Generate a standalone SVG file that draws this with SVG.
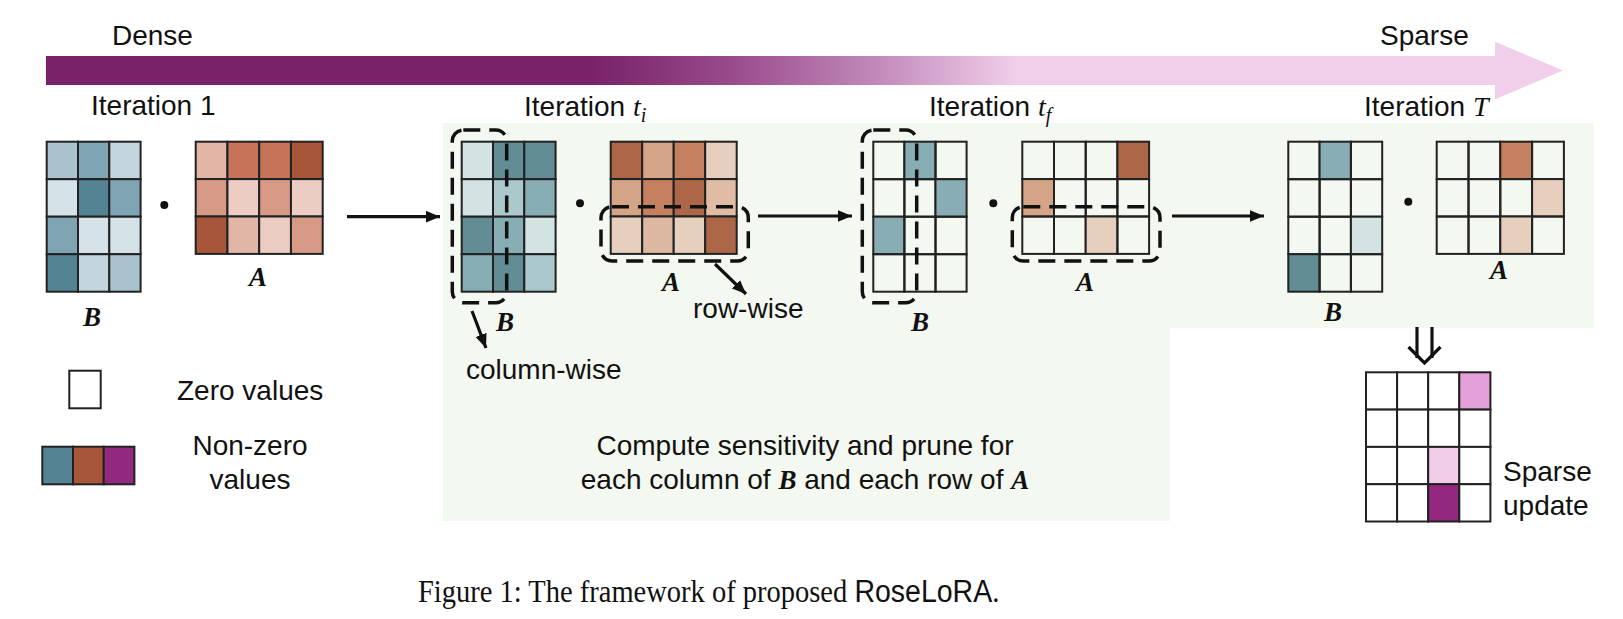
<svg xmlns="http://www.w3.org/2000/svg" width="1623" height="619" viewBox="0 0 1623 619">
<style>
.lbl{font-family:"Liberation Sans",Arial,sans-serif;font-size:28px;fill:#111}
.mat{font-family:"Liberation Serif","Times New Roman",serif;font-weight:bold;font-style:italic;font-size:27px;fill:#111;text-anchor:middle}
.math{font-family:"Liberation Serif","Times New Roman",serif;font-style:italic}
.c{stroke:#222;stroke-width:2}
.z{fill:none}
.dash{fill:none;stroke:#111;stroke-width:3.5;stroke-dasharray:17 9}
.conn{stroke:#111;stroke-width:3.2;fill:none}
</style>
<defs>
<linearGradient id="grad" gradientUnits="userSpaceOnUse" x1="46" y1="0" x2="1563" y2="0">
<stop offset="0" stop-color="#78226a"/>
<stop offset="0.36" stop-color="#78226a"/>
<stop offset="0.45" stop-color="#984a8b"/>
<stop offset="0.55" stop-color="#c38bbb"/>
<stop offset="0.64" stop-color="#f1cfea"/>
<stop offset="1" stop-color="#f1cfea"/>
</linearGradient>
<marker id="ah" viewBox="0 0 12 12" markerWidth="14" markerHeight="14" refX="12" refY="6" orient="auto" markerUnits="userSpaceOnUse">
<path d="M0,1 L12,6 L0,11 Z" fill="#111"/>
</marker>
</defs>
<rect width="1623" height="619" fill="#fff"/>
<g id="progress">
<path d="M46,56 L1495,56 L1495,41.7 L1563,70.5 L1495,99.3 L1495,85 L46,85 Z" fill="url(#grad)"/>
<text class="lbl" x="112" y="45">Dense</text>
<text class="lbl" x="1380" y="45">Sparse</text>
</g>
<path id="panel" d="M443,123 L1594,123 L1594,328 L1170,328 L1170,521 L443,521 Z" fill="#f3f8f0"/>
<g id="titles">
<text class="lbl" x="91" y="115">Iteration 1</text>
<text class="lbl" x="524" y="115.5">Iteration <tspan class="math">t</tspan><tspan class="math" font-size="20" dy="6">i</tspan></text>
<text class="lbl" x="929" y="115.5">Iteration <tspan class="math">t</tspan><tspan class="math" font-size="20" dy="6">f</tspan></text>
<text class="lbl" x="1364" y="115.5">Iteration <tspan class="math">T</tspan></text>
</g>
<g id="iter1-B">
<rect class="c" x="46.7" y="141.7" width="31.3" height="37.5" fill="#a9c2cd"/>
<rect class="c" x="78" y="141.7" width="31.3" height="37.5" fill="#7fa5b5"/>
<rect class="c" x="109.3" y="141.7" width="31.3" height="37.5" fill="#c3d6de"/>
<rect class="c" x="46.7" y="179.2" width="31.3" height="37.5" fill="#d5e3e9"/>
<rect class="c" x="78" y="179.2" width="31.3" height="37.5" fill="#548393"/>
<rect class="c" x="109.3" y="179.2" width="31.3" height="37.5" fill="#7fa5b5"/>
<rect class="c" x="46.7" y="216.7" width="31.3" height="37.5" fill="#7fa5b5"/>
<rect class="c" x="78" y="216.7" width="31.3" height="37.5" fill="#d5e3e9"/>
<rect class="c" x="109.3" y="216.7" width="31.3" height="37.5" fill="#d5e3e9"/>
<rect class="c" x="46.7" y="254.2" width="31.3" height="37.5" fill="#548393"/>
<rect class="c" x="78" y="254.2" width="31.3" height="37.5" fill="#c3d6de"/>
<rect class="c" x="109.3" y="254.2" width="31.3" height="37.5" fill="#a9c2cd"/>
<text class="mat" x="92" y="326">B</text>
</g>
<circle cx="164.3" cy="205" r="4" fill="#111"/>
<g id="iter1-A">
<rect class="c" x="195.7" y="141.7" width="31.75" height="37.4" fill="#e2b6a6"/>
<rect class="c" x="227.45" y="141.7" width="31.75" height="37.4" fill="#c7735a"/>
<rect class="c" x="259.2" y="141.7" width="31.75" height="37.4" fill="#c7735a"/>
<rect class="c" x="290.95" y="141.7" width="31.75" height="37.4" fill="#a8563a"/>
<rect class="c" x="195.7" y="179.1" width="31.75" height="37.4" fill="#d79a86"/>
<rect class="c" x="227.45" y="179.1" width="31.75" height="37.4" fill="#eccdc3"/>
<rect class="c" x="259.2" y="179.1" width="31.75" height="37.4" fill="#d79a86"/>
<rect class="c" x="290.95" y="179.1" width="31.75" height="37.4" fill="#eccdc3"/>
<rect class="c" x="195.7" y="216.5" width="31.75" height="37.4" fill="#a8563a"/>
<rect class="c" x="227.45" y="216.5" width="31.75" height="37.4" fill="#e2b6a6"/>
<rect class="c" x="259.2" y="216.5" width="31.75" height="37.4" fill="#eccdc3"/>
<rect class="c" x="290.95" y="216.5" width="31.75" height="37.4" fill="#d79a86"/>
<text class="mat" x="258" y="286">A</text>
</g>
<g id="iterti-B">
<rect class="c" x="461.7" y="141.7" width="31.3" height="37.5" fill="#d2e3e1"/>
<rect class="c" x="493" y="141.7" width="31.3" height="37.5" fill="#628d95"/>
<rect class="c" x="524.3" y="141.7" width="31.3" height="37.5" fill="#628d95"/>
<rect class="c" x="461.7" y="179.2" width="31.3" height="37.5" fill="#d2e3e1"/>
<rect class="c" x="493" y="179.2" width="31.3" height="37.5" fill="#abc9cc"/>
<rect class="c" x="524.3" y="179.2" width="31.3" height="37.5" fill="#87adb5"/>
<rect class="c" x="461.7" y="216.7" width="31.3" height="37.5" fill="#628d95"/>
<rect class="c" x="493" y="216.7" width="31.3" height="37.5" fill="#87adb5"/>
<rect class="c" x="524.3" y="216.7" width="31.3" height="37.5" fill="#d2e3e1"/>
<rect class="c" x="461.7" y="254.2" width="31.3" height="37.5" fill="#87adb5"/>
<rect class="c" x="493" y="254.2" width="31.3" height="37.5" fill="#628d95"/>
<rect class="c" x="524.3" y="254.2" width="31.3" height="37.5" fill="#abc9cc"/>
<rect class="dash" x="452.3" y="130" width="54.4" height="172.7" rx="11"/>
<text class="mat" x="505" y="331">B</text>
</g>
<circle cx="580" cy="203.3" r="4" fill="#111"/>
<g id="iterti-A">
<rect class="c" x="610.7" y="141.7" width="31.5" height="37.4" fill="#ab6748"/>
<rect class="c" x="642.2" y="141.7" width="31.5" height="37.4" fill="#d4a487"/>
<rect class="c" x="673.7" y="141.7" width="31.5" height="37.4" fill="#c58060"/>
<rect class="c" x="705.2" y="141.7" width="31.5" height="37.4" fill="#e6d0bd"/>
<rect class="c" x="610.7" y="179.1" width="31.5" height="37.4" fill="#d4a487"/>
<rect class="c" x="642.2" y="179.1" width="31.5" height="37.4" fill="#c58060"/>
<rect class="c" x="673.7" y="179.1" width="31.5" height="37.4" fill="#ab6748"/>
<rect class="c" x="705.2" y="179.1" width="31.5" height="37.4" fill="#e0bca5"/>
<rect class="c" x="610.7" y="216.5" width="31.5" height="37.4" fill="#e6d0bd"/>
<rect class="c" x="642.2" y="216.5" width="31.5" height="37.4" fill="#dcb8a0"/>
<rect class="c" x="673.7" y="216.5" width="31.5" height="37.4" fill="#e6d0bd"/>
<rect class="c" x="705.2" y="216.5" width="31.5" height="37.4" fill="#ab6748"/>
<rect class="dash" x="601" y="206.7" width="147.3" height="54.3" rx="11"/>
<text class="mat" x="671" y="291">A</text>
</g>
<g id="itertf-B">
<rect class="c z" x="873.3" y="141.7" width="31.1" height="37.5"/>
<rect class="c" x="904.4" y="141.7" width="31.1" height="37.5" fill="#88adb5"/>
<rect class="c z" x="935.5" y="141.7" width="31.1" height="37.5"/>
<rect class="c z" x="873.3" y="179.2" width="31.1" height="37.5"/>
<rect class="c z" x="904.4" y="179.2" width="31.1" height="37.5"/>
<rect class="c" x="935.5" y="179.2" width="31.1" height="37.5" fill="#88adb5"/>
<rect class="c" x="873.3" y="216.7" width="31.1" height="37.5" fill="#88adb5"/>
<rect class="c z" x="904.4" y="216.7" width="31.1" height="37.5"/>
<rect class="c z" x="935.5" y="216.7" width="31.1" height="37.5"/>
<rect class="c z" x="873.3" y="254.2" width="31.1" height="37.5"/>
<rect class="c z" x="904.4" y="254.2" width="31.1" height="37.5"/>
<rect class="c z" x="935.5" y="254.2" width="31.1" height="37.5"/>
<rect class="dash" x="862.3" y="130" width="54.4" height="172.7" rx="11"/>
<text class="mat" x="920" y="331">B</text>
</g>
<circle cx="993.3" cy="203.3" r="4" fill="#111"/>
<g id="itertf-A">
<rect class="c z" x="1022.3" y="141.7" width="31.7" height="37.4"/>
<rect class="c z" x="1054" y="141.7" width="31.7" height="37.4"/>
<rect class="c z" x="1085.7" y="141.7" width="31.7" height="37.4"/>
<rect class="c" x="1117.4" y="141.7" width="31.7" height="37.4" fill="#ab6748"/>
<rect class="c" x="1022.3" y="179.1" width="31.7" height="37.4" fill="#d4a487"/>
<rect class="c z" x="1054" y="179.1" width="31.7" height="37.4"/>
<rect class="c z" x="1085.7" y="179.1" width="31.7" height="37.4"/>
<rect class="c z" x="1117.4" y="179.1" width="31.7" height="37.4"/>
<rect class="c z" x="1022.3" y="216.5" width="31.7" height="37.4"/>
<rect class="c z" x="1054" y="216.5" width="31.7" height="37.4"/>
<rect class="c" x="1085.7" y="216.5" width="31.7" height="37.4" fill="#e6d0bd"/>
<rect class="c z" x="1117.4" y="216.5" width="31.7" height="37.4"/>
<rect class="dash" x="1012.3" y="206.7" width="147.7" height="54.3" rx="11"/>
<text class="mat" x="1085" y="291">A</text>
</g>
<g id="iterT-B">
<rect class="c z" x="1288.3" y="141.7" width="31.3" height="37.5"/>
<rect class="c" x="1319.6" y="141.7" width="31.3" height="37.5" fill="#88adb5"/>
<rect class="c z" x="1350.9" y="141.7" width="31.3" height="37.5"/>
<rect class="c z" x="1288.3" y="179.2" width="31.3" height="37.5"/>
<rect class="c z" x="1319.6" y="179.2" width="31.3" height="37.5"/>
<rect class="c z" x="1350.9" y="179.2" width="31.3" height="37.5"/>
<rect class="c z" x="1288.3" y="216.7" width="31.3" height="37.5"/>
<rect class="c z" x="1319.6" y="216.7" width="31.3" height="37.5"/>
<rect class="c" x="1350.9" y="216.7" width="31.3" height="37.5" fill="#d2e3e1"/>
<rect class="c" x="1288.3" y="254.2" width="31.3" height="37.5" fill="#628d95"/>
<rect class="c z" x="1319.6" y="254.2" width="31.3" height="37.5"/>
<rect class="c z" x="1350.9" y="254.2" width="31.3" height="37.5"/>
<text class="mat" x="1333" y="321">B</text>
</g>
<circle cx="1408.3" cy="201.7" r="4" fill="#111"/>
<g id="iterT-A">
<rect class="c z" x="1436.7" y="141.7" width="31.8" height="37.4"/>
<rect class="c z" x="1468.5" y="141.7" width="31.8" height="37.4"/>
<rect class="c" x="1500.3" y="141.7" width="31.8" height="37.4" fill="#c58060"/>
<rect class="c z" x="1532.1" y="141.7" width="31.8" height="37.4"/>
<rect class="c z" x="1436.7" y="179.1" width="31.8" height="37.4"/>
<rect class="c z" x="1468.5" y="179.1" width="31.8" height="37.4"/>
<rect class="c z" x="1500.3" y="179.1" width="31.8" height="37.4"/>
<rect class="c" x="1532.1" y="179.1" width="31.8" height="37.4" fill="#e6d0bd"/>
<rect class="c z" x="1436.7" y="216.5" width="31.8" height="37.4"/>
<rect class="c z" x="1468.5" y="216.5" width="31.8" height="37.4"/>
<rect class="c" x="1500.3" y="216.5" width="31.8" height="37.4" fill="#e6d0bd"/>
<rect class="c z" x="1532.1" y="216.5" width="31.8" height="37.4"/>
<text class="mat" x="1499" y="279">A</text>
</g>
<g id="sparse-update">
<rect class="c" x="1366" y="372.3" width="31.1" height="37.3" fill="#fff"/>
<rect class="c" x="1397.1" y="372.3" width="31.1" height="37.3" fill="#fff"/>
<rect class="c" x="1428.2" y="372.3" width="31.1" height="37.3" fill="#fff"/>
<rect class="c" x="1459.3" y="372.3" width="31.1" height="37.3" fill="#e4a0d8"/>
<rect class="c" x="1366" y="409.6" width="31.1" height="37.3" fill="#fff"/>
<rect class="c" x="1397.1" y="409.6" width="31.1" height="37.3" fill="#fff"/>
<rect class="c" x="1428.2" y="409.6" width="31.1" height="37.3" fill="#fff"/>
<rect class="c" x="1459.3" y="409.6" width="31.1" height="37.3" fill="#fff"/>
<rect class="c" x="1366" y="446.9" width="31.1" height="37.3" fill="#fff"/>
<rect class="c" x="1397.1" y="446.9" width="31.1" height="37.3" fill="#fff"/>
<rect class="c" x="1428.2" y="446.9" width="31.1" height="37.3" fill="#f2cdea"/>
<rect class="c" x="1459.3" y="446.9" width="31.1" height="37.3" fill="#fff"/>
<rect class="c" x="1366" y="484.2" width="31.1" height="37.3" fill="#fff"/>
<rect class="c" x="1397.1" y="484.2" width="31.1" height="37.3" fill="#fff"/>
<rect class="c" x="1428.2" y="484.2" width="31.1" height="37.3" fill="#922880"/>
<rect class="c" x="1459.3" y="484.2" width="31.1" height="37.3" fill="#fff"/>
<text class="lbl" x="1503" y="481">Sparse</text>
<text class="lbl" x="1503" y="515">update</text>
</g>
<g id="legend">
<rect class="c" x="69.3" y="370.7" width="31.4" height="37.6" fill="#fff"/>
<text class="lbl" x="177" y="400">Zero values</text>
<rect class="c" x="42.3" y="446.7" width="30.7" height="37.6" fill="#548393"/>
<rect class="c" x="73" y="446.7" width="30.7" height="37.6" fill="#a8563a"/>
<rect class="c" x="103.7" y="446.7" width="30.7" height="37.6" fill="#922880"/>
<text class="lbl" x="250" y="455" text-anchor="middle">Non-zero</text>
<text class="lbl" x="250" y="489" text-anchor="middle">values</text>
</g>
<g id="annotations">
<text class="lbl" x="466" y="379">column-wise</text>
<text class="lbl" x="693" y="318">row-wise</text>
<text class="lbl" x="805" y="455" text-anchor="middle">Compute sensitivity and prune for</text>
<text class="lbl" x="805" y="489" text-anchor="middle">each column of <tspan class="mat">B</tspan> and each row of <tspan class="mat">A</tspan></text>
</g>
<g id="connectors">
<line class="conn" x1="347" y1="216.7" x2="440" y2="216.7" marker-end="url(#ah)"/>
<line class="conn" x1="758" y1="216" x2="852" y2="216" marker-end="url(#ah)"/>
<line class="conn" x1="1172" y1="216" x2="1264" y2="216" marker-end="url(#ah)"/>
<line class="conn" x1="472" y1="311" x2="486" y2="348" marker-end="url(#ah)"/>
<line class="conn" x1="715" y1="264" x2="746" y2="294" marker-end="url(#ah)"/>
<line class="conn" stroke-width="4" x1="1417" y1="327" x2="1417" y2="358"/>
<line class="conn" stroke-width="4" x1="1432" y1="327" x2="1432" y2="358"/>
<polyline class="conn" stroke-width="4" points="1408.5,347 1424.5,363 1440.5,347"/>
</g>
<text transform="translate(418,602) scale(0.92,1)" x="0" y="0" font-family="'Liberation Serif','Times New Roman',serif" font-size="31" fill="#111">Figure 1: The framework of proposed <tspan font-family="'Liberation Sans',Arial,sans-serif">RoseLoRA</tspan>.</text>
</svg>
